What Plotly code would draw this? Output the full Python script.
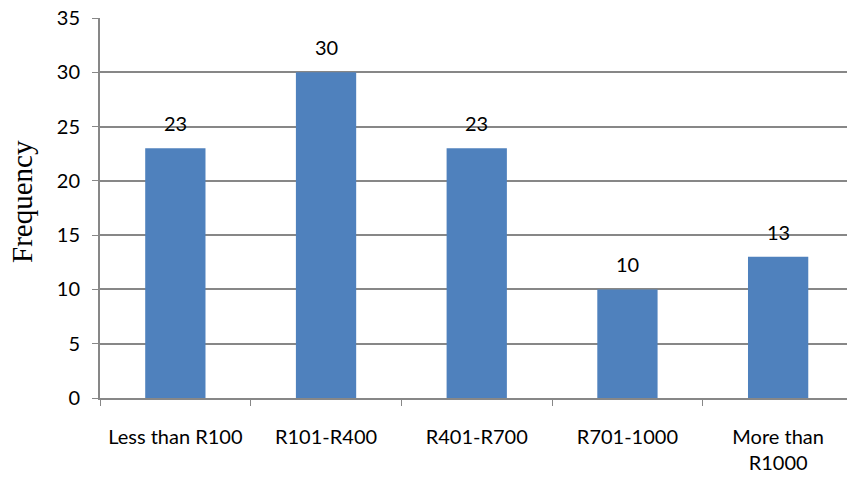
import plotly.graph_objects as go

categories = ["Less than R100", "R101-R400", "R401-R700", "R701-1000", "More than<br>R1000"]
frequency = [23, 30, 23, 10, 13]
y_ticks = [0, 5, 10, 15, 20, 25, 30, 35]
y_title = "Frequency"

bar_color = "#4F81BD"
line_gray = "#878787"
label_font = dict(family="Lato, 'Open Sans', sans-serif", size=20, color="#000000")
title_font = dict(family="'Liberation Serif', 'Times New Roman', serif", size=29, color="#000000")

fig = go.Figure(
    go.Bar(
        x=categories,
        y=frequency,
        marker=dict(color=bar_color, line=dict(width=0)),
        width=0.4,
    )
)

for cat, val in zip(categories, frequency):
    fig.add_annotation(
        x=cat, y=val, text=str(val), showarrow=False,
        yanchor="bottom", yshift=11, font=label_font,
    )

# Vertical axis title placed as a rotated annotation left of the tick labels
fig.add_annotation(
    xref="paper", yref="paper", x=0, y=0.5,
    xanchor="center", yanchor="middle", xshift=-78, yshift=6,
    text=y_title, textangle=-90, showarrow=False, font=title_font,
)

fig.update_layout(
    width=847, height=478,
    margin=dict(l=100, r=0, t=18, b=80),
    paper_bgcolor="white", plot_bgcolor="white",
    showlegend=False,
    xaxis=dict(
        type="category",
        range=[-0.5, 4.457],
        tickson="boundaries",
        ticks="outside", ticklen=6, tickcolor=line_gray,
        showline=True, linecolor=line_gray, linewidth=2,
        showgrid=False,
        tickfont=label_font,
        ticklabelstandoff=20,
    ),
    yaxis=dict(
        range=[0, 35],
        tickvals=y_ticks,
        ticks="outside", ticklen=6, tickcolor=line_gray,
        showline=True, linecolor=line_gray, linewidth=2,
        showgrid=True, gridcolor=line_gray, gridwidth=1.5,
        zeroline=False,
        tickfont=label_font,
        ticklabelstandoff=8,
    ),
)

fig.write_html("out.html")
